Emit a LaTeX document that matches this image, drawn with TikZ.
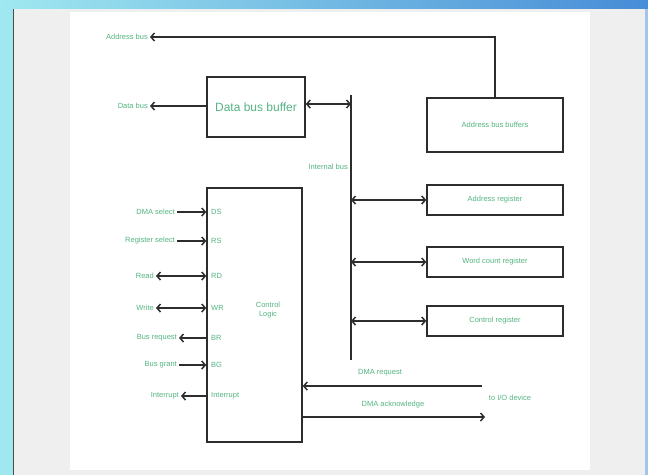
\documentclass[tikz,border=0pt]{standalone}
\usepackage{fontspec}
\setmainfont{Liberation Sans}
\usepackage{tikz}
\usetikzlibrary{arrows.meta}
\definecolor{framecyan}{RGB}{160, 232, 240}
\definecolor{frameblue}{RGB}{70, 140, 215}
\definecolor{panelgray}{RGB}{239, 239, 239}
\definecolor{linegray}{RGB}{45, 45, 45}
\definecolor{textgreen}{RGB}{85, 180, 130}

\begin{document}
\begin{tikzpicture}[x=1pt, y=-1pt, font=\fontsize{7.5}{8.5}\selectfont,
	>={Straight Barb[length=3.5pt, width=8pt]},
	box/.style={draw=linegray, line width=1.5pt, text=textgreen, inner sep=0pt},
	sig/.style={text=textgreen, inner sep=2pt},
	wire/.style={draw=linegray, line width=1.5pt}]
	
	% Fix the page to the screenshot size
	\useasboundingbox (0, 0) rectangle (648, 475);
	
	% --- Screen frame and slide background ---
	\fill[framecyan] (0, 0) rectangle (648, 475);
	\shade[left color=framecyan, right color=frameblue] (0, 0) rectangle (648, 9);
	\fill[panelgray] (13, 9) rectangle (645, 475);
	\fill[frameblue!50] (645, 9) rectangle (648, 475);
	\draw[gray!60!black, line width=1.5pt] (13.5, 9) -- (13.5, 475);
	\fill[white] (70, 12) rectangle (590, 470);
	
	% --- Data bus buffer and address bus buffers ---
	\node[box, minimum width=98, minimum height=60, font=\fontsize{12}{13}\selectfont] (dbuf) at (256, 107) {Data bus buffer};
	\node[box, minimum width=136, minimum height=54] (abuf) at (495, 125) {Address bus buffers};
	
	\node[sig, anchor=east] (dblabel) at (150, 106) {Data bus};
	\node[sig, anchor=east] (ablabel) at (150, 37) {Address bus};
	
	\draw[wire, ->] (dbuf.west |- dblabel.east) -- (dblabel.east);
	\draw[wire, ->] (abuf.north) |- (ablabel.east);
	
	% --- Internal bus ---
	\coordinate (bustop) at (351, 95);
	\coordinate (busbot) at (351, 360);
	\draw[wire] (bustop) -- (busbot);
	\node[sig, anchor=east] (buslabel) at (350, 167) {Internal bus};
	\draw[wire, <->] (dbuf.east |- 0, 104) -- (bustop |- 0, 104);
	
	% --- Registers on the internal bus ---
	\foreach \name/\y/\txt in {areg/200/Address register, wreg/262/Word count register, creg/321/Control register} {
		\node[box, minimum width=136, minimum height=30] (\name) at (495, \y) {\txt};
		\draw[wire, <->] (bustop |- \name.west) -- (\name.west);
	}
	
	% --- Control logic ---
	\node[box, minimum width=95, minimum height=254] (ctrl) at (254.5, 315) {};
	\node[sig, align=center] (ctrltxt) at (268, 310) {Control\\Logic};
	
	% pins inside the control box
	\foreach \name/\y/\txt in {pds/212/DS, prs/241/RS, prd/276/RD, pwr/308/WR, pbr/338/BR, pbg/365/BG, pint/396/Interrupt}
		\node[sig, anchor=west] (\name) at (209, \y) {\txt};
	
	% signal names outside the control box
	\node[sig, anchor=east] (dsl) at (177, 212) {DMA select};
	\node[sig, anchor=east] (rsl) at (177, 241) {Register select};
	\node[sig, anchor=east] (rdl) at (156, 276) {Read};
	\node[sig, anchor=east] (wrl) at (156, 308) {Write};
	\node[sig, anchor=east] (brl) at (179, 338) {Bus request};
	\node[sig, anchor=east] (bgl) at (179, 365) {Bus grant};
	\node[sig, anchor=east] (intl) at (181, 396) {Interrupt};
	
	\draw[wire, ->] (dsl.east) -- (dsl.east -| ctrl.west);
	\draw[wire, ->] (rsl.east) -- (rsl.east -| ctrl.west);
	\draw[wire, <->] (rdl.east) -- (rdl.east -| ctrl.west);
	\draw[wire, <->] (wrl.east) -- (wrl.east -| ctrl.west);
	\draw[wire, ->] (brl.east -| ctrl.west) -- (brl.east);
	\draw[wire, ->] (bgl.east) -- (bgl.east -| ctrl.west);
	\draw[wire, ->] (intl.east -| ctrl.west) -- (intl.east);
	
	% --- DMA handshake with the I/O device ---
	\coordinate (reqend) at (482, 386);
	\coordinate (ackend) at (485, 417);
	\draw[wire, ->] (reqend) -- (reqend -| ctrl.east);
	\draw[wire, ->] (ackend -| ctrl.east) -- (ackend);
	\node[sig] (reqlabel) at (380, 373) {DMA request};
	\node[sig] (acklabel) at (393, 405) {DMA acknowledge};
	\node[sig] (iolabel) at (510, 398) {to I/O device};
	
\end{tikzpicture}
\end{document}
